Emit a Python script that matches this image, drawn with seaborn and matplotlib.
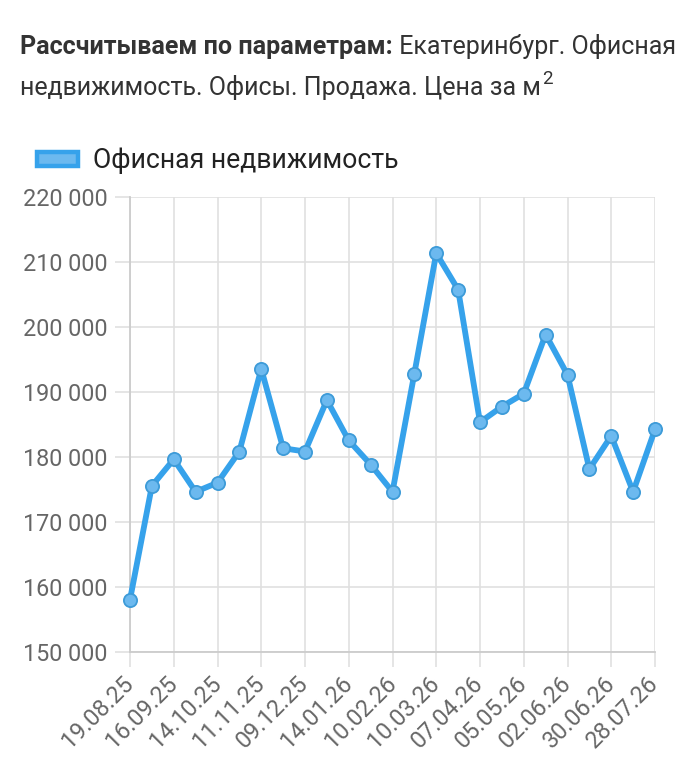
import matplotlib
matplotlib.use("Agg")
import matplotlib.pyplot as plt
from matplotlib.patches import Patch
import seaborn as sns
import pandas as pd

# ---- data ----
tick_labels = ["19.08.25", "16.09.25", "14.10.25", "11.11.25", "09.12.25", "14.01.26",
               "10.02.26", "10.03.26", "07.04.26", "05.05.26", "02.06.26", "30.06.26", "28.07.26"]
prices = [158000, 175500, 179600, 174600, 176000, 180800, 193500, 181300, 180800, 188700,
          182500, 178800, 174600, 192800, 211300, 205700, 185300, 187700, 189700, 198800,
          192600, 178100, 183200, 174600, 184200]
y_ticks = [150000, 160000, 170000, 180000, 190000, 200000, 210000, 220000]
series_name = "Офисная недвижимость"
title_bold = "Рассчитываем по параметрам:"
title_rest1 = " Екатеринбург. Офисная"
title_line2 = "недвижимость. Офисы. Продажа. Цена за м"
title_sup = "2"

sns.set_theme(style="white")
plt.rcParams["font.family"] = ["Roboto", "DejaVu Sans"]

LINE = "#36a2eb"
FACE = "#6cb9ef"
GRID = "#e0e0e0"

df = pd.DataFrame({"idx": list(range(len(prices))), "price": prices})

W, H = 700, 775
fig = plt.figure(figsize=(W / 100, H / 100), dpi=100)
ax = fig.add_axes([130 / W, 1 - 651.7 / H, 525 / W, (651.7 - 196.7) / H])

sns.lineplot(data=df, x="idx", y="price", ax=ax, color=LINE, linewidth=4.2,
             marker="o", markersize=9.5, markerfacecolor=FACE,
             markeredgecolor="#3d9bd8", markeredgewidth=1.3, clip_on=False, zorder=5)

ax.set_xlim(0, len(prices) - 1)
ax.set_ylim(y_ticks[0], y_ticks[-1])
ax.set_xticks(list(range(0, len(prices), 2)))
ax.set_xticklabels(tick_labels, rotation=45, ha="right", va="center",
                   rotation_mode="anchor")
ax.set_yticks(y_ticks)
ax.set_yticklabels([f"{v:,}".replace(",", " ") for v in y_ticks])
ax.set_xlabel("")
ax.set_ylabel("")

ax.grid(True, color=GRID, linewidth=1.2)
ax.set_axisbelow(True)
for s in ["top", "right"]:
    ax.spines[s].set_visible(False)
for s in ["left", "bottom"]:
    ax.spines[s].set_color("#cccccc")
    ax.spines[s].set_linewidth(1.3)
ax.tick_params(axis="both", length=11, width=1.2, color=GRID, labelcolor="#666666",
               labelsize=16.8)
ax.tick_params(axis="y", pad=5)
ax.tick_params(axis="x", pad=9)
ax.xaxis.set_tick_params(bottom=True)
ax.yaxis.set_tick_params(left=True)

# legend
handle = Patch(facecolor=FACE, edgecolor=LINE, linewidth=3.2)
fig.legend(handles=[handle], labels=[series_name], loc="center left",
           bbox_to_anchor=(37 / W, 1 - 161 / H), frameon=False, fontsize=19.2,
           handlelength=1.55, handleheight=0.42, handletextpad=0.55,
           borderaxespad=0, borderpad=0, labelcolor="#222222")

# title
x0 = 20 / W
y1 = 1 - 54 / H
y2 = 1 - 95 / H
t1 = fig.text(x0, y1, title_bold, fontsize=18, fontweight="bold", color="#333333",
              va="baseline", ha="left")
fig.canvas.draw()
r = fig.canvas.get_renderer()
bb = t1.get_window_extent(r)
fig.text(bb.x1 / W, y1, title_rest1, fontsize=18, color="#333333", va="baseline", ha="left")
t2 = fig.text(x0, y2, title_line2, fontsize=18, color="#333333", va="baseline", ha="left")
bb2 = t2.get_window_extent(r)
fig.text(bb2.x1 / W + 1 / W, y2 + 11 / H, title_sup, fontsize=13.5, color="#333333",
         va="baseline", ha="left")

fig.savefig("out.png", dpi=100, facecolor="white")
